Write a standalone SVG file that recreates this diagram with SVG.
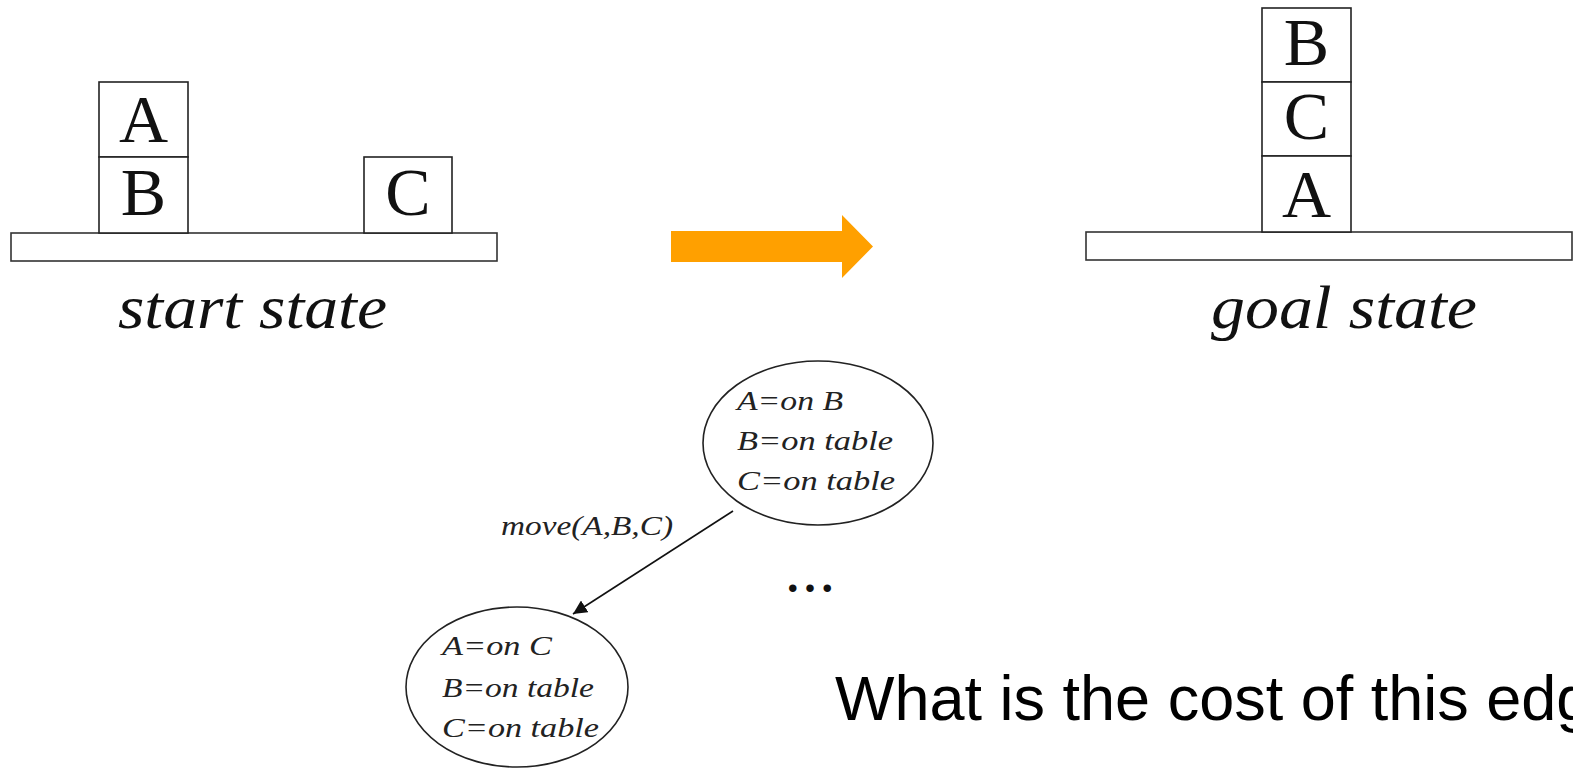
<svg xmlns="http://www.w3.org/2000/svg" width="1573" height="769" viewBox="0 0 1573 769">
<style>
.box{fill:#fff;stroke:#222;stroke-width:1.6}
.tbl{fill:#fff;stroke:#333;stroke-width:1.6}
.blk{font-family:"Liberation Serif","Times New Roman",serif;font-size:68px;fill:#111;text-anchor:middle}
.cap{font-family:"Liberation Serif","Times New Roman",serif;font-style:italic;font-size:61px;fill:#111}
.st{font-family:"Liberation Serif","Times New Roman",serif;font-style:italic;font-size:28px;fill:#222}
.ell{fill:#fff;stroke:#222;stroke-width:1.6}
.q{font-family:"Liberation Sans",Arial,sans-serif;font-size:63px;fill:#000}
</style>
<defs>
<marker id="ah" viewBox="0 0 10 10" refX="10" refY="5" markerWidth="14" markerHeight="14" markerUnits="userSpaceOnUse" orient="auto">
<path d="M0,0 L10,5 L0,10 z" fill="#111"/>
</marker>
</defs>
<rect width="1573" height="769" fill="#fff"/>

<g id="start-state">
<rect class="tbl" x="11" y="233" width="486" height="28"/>
<rect class="box" x="99" y="82" width="89" height="75"/>
<text class="blk" x="143.5" y="142">A</text>
<rect class="box" x="99" y="157" width="89" height="76"/>
<text class="blk" x="143.5" y="215">B</text>
<rect class="box" x="364" y="157" width="88" height="76"/>
<text class="blk" x="408" y="215">C</text>
<text class="cap" x="118" y="328" textLength="269" lengthAdjust="spacingAndGlyphs">start state</text>
</g>

<g id="transition-arrow">
<polygon points="671,231 842,231 842,215 873,246.5 842,278 842,262 671,262" fill="#FFA000"/>
</g>

<g id="goal-state">
<rect class="tbl" x="1086" y="232" width="486" height="28"/>
<rect class="box" x="1262" y="8" width="89" height="74"/>
<text class="blk" x="1306.5" y="65">B</text>
<rect class="box" x="1262" y="82" width="89" height="74"/>
<text class="blk" x="1306.5" y="139">C</text>
<rect class="box" x="1262" y="156" width="89" height="76"/>
<text class="blk" x="1306.5" y="217">A</text>
<text class="cap" x="1211" y="328" textLength="266" lengthAdjust="spacingAndGlyphs">goal state</text>
</g>

<g id="node-root">
<ellipse class="ell" cx="818" cy="443" rx="115" ry="82"/>
<text class="st" x="737" y="410" textLength="106" lengthAdjust="spacingAndGlyphs">A=on B</text>
<text class="st" x="737" y="450" textLength="156" lengthAdjust="spacingAndGlyphs">B=on table</text>
<text class="st" x="737" y="490" textLength="158" lengthAdjust="spacingAndGlyphs">C=on table</text>
</g>

<g id="node-child">
<ellipse class="ell" cx="517" cy="687" rx="111" ry="80"/>
<text class="st" x="442" y="655" textLength="110" lengthAdjust="spacingAndGlyphs">A=on C</text>
<text class="st" x="442" y="697" textLength="152" lengthAdjust="spacingAndGlyphs">B=on table</text>
<text class="st" x="442" y="737" textLength="157" lengthAdjust="spacingAndGlyphs">C=on table</text>
</g>

<g id="connectors">
<line x1="733" y1="511" x2="573" y2="614" stroke="#111" stroke-width="1.6" marker-end="url(#ah)"/>
<text class="st" x="501" y="535" textLength="172" lengthAdjust="spacingAndGlyphs">move(A,B,C)</text>
</g>

<g id="ellipsis">
<text x="787" y="592" font-family="Liberation Serif, serif" font-weight="bold" font-size="46" fill="#111" textLength="46" lengthAdjust="spacing">...</text>
</g>

<g id="question">
<text class="q" x="835" y="720">What is the cost of this edge?</text>
</g>
</svg>
